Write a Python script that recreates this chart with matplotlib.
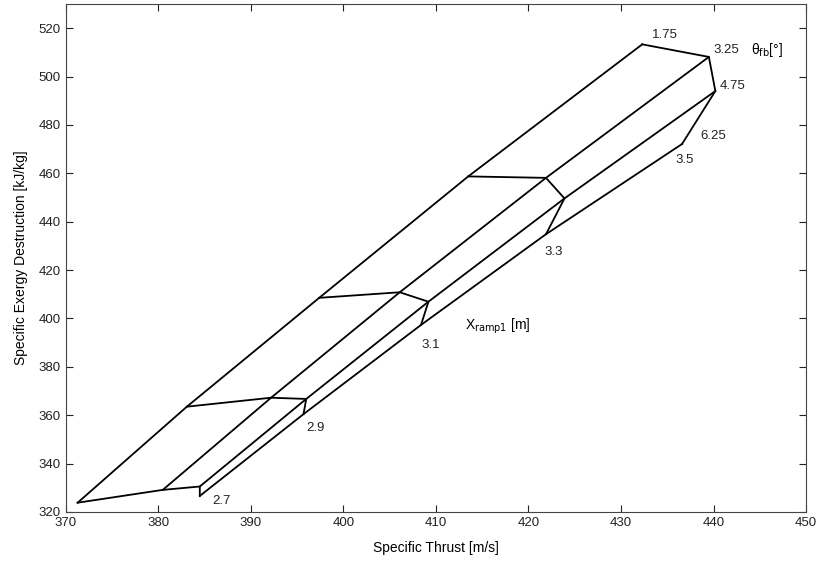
import numpy as np
import matplotlib.pyplot as plt

plt.rcParams['font.family'] = ['Liberation Sans', 'DejaVu Sans']

# carpet plot data: one row per theta_fb, one column per X_ramp1
theta_fb = ['1.75', '3.25', '4.75', '6.25']
x_ramp = ['2.7', '2.9', '3.1', '3.3', '3.5']

thrust = np.array([
    [371.3, 383.1, 397.4, 413.5, 432.3],
    [380.5, 392.2, 406.1, 421.9, 439.5],
    [384.5, 396.0, 409.2, 423.9, 440.2],
    [384.5, 395.7, 408.4, 421.9, 436.6],
])
exergy = np.array([
    [323.8, 363.5, 408.5, 458.7, 513.3],
    [329.1, 367.2, 410.8, 458.1, 508.1],
    [330.5, 366.7, 406.9, 449.6, 494.0],
    [326.6, 360.4, 397.3, 434.8, 472.1],
])

fig = plt.figure(figsize=(8.2, 5.65), dpi=100)
ax = fig.add_axes([0.080, 0.094, 0.903, 0.899])

# lines of constant theta
for i in range(len(theta_fb)):
    ax.plot(thrust[i], exergy[i], color='black', lw=1.3)
# lines of constant X_ramp1
for j in range(len(x_ramp)):
    ax.plot(thrust[:, j], exergy[:, j], color='black', lw=1.3)

# theta labels at the X=3.5 end
theta_off = [(1.0, 3.8), (0.5, 2.8), (0.5, 2.0), (2.0, 3.3)]
for i, lab in enumerate(theta_fb):
    dx, dy = theta_off[i]
    ax.text(thrust[i, -1] + dx, exergy[i, -1] + dy, lab, fontsize=9.5,
            va='center', ha='left', color='#222222')

# X_ramp labels below the 6.25 line
x_off = [(1.4, -2.1), (0.3, -5.7), (0.0, -8.3), (-0.2, -7.4), (-0.7, -6.6)]
for j, lab in enumerate(x_ramp):
    dx, dy = x_off[j]
    ax.text(thrust[-1, j] + dx, exergy[-1, j] + dy, lab, fontsize=9.5,
            va='center', ha='left', color='#222222')

ax.text(444.1, 510.9, 'θ$_{\\mathrm{fb}}$[°]', fontsize=10, va='center', ha='left')
ax.text(413.1, 396.9, 'X$_{\\mathrm{ramp1}}$ [m]', fontsize=10, va='center', ha='left')

ax.set_xlim(370, 450)
ax.set_ylim(320, 530)
ax.set_xticks(np.arange(370, 451, 10))
ax.set_yticks(np.arange(320, 521, 20))
ax.tick_params(direction='in', top=True, right=True, length=5, labelsize=9.5,
               colors='#222222')
for s in ax.spines.values():
    s.set_linewidth(0.8)
    s.set_color('#444444')

ax.set_xlabel('Specific Thrust [m/s]', fontsize=10, labelpad=9)
ax.set_ylabel('Specific Exergy Destruction [kJ/kg]', fontsize=10, labelpad=8)

fig.savefig('out.png', dpi=100)
